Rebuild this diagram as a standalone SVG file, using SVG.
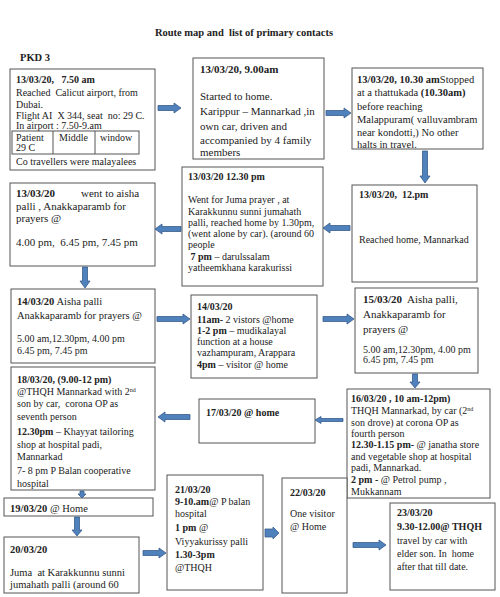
<svg xmlns="http://www.w3.org/2000/svg" width="500" height="597" viewBox="0 0 500 597">
<style>
text{font-family:"Liberation Serif","Times New Roman",serif;font-size:10px;fill:#222;white-space:pre}
.b{font-weight:bold}
.box{fill:#fff;stroke:#555;stroke-width:1}
.arr{fill:#4f81bd;stroke:#385d8a;stroke-width:0.8}
.sup{font-size:6px}
.l{font-size:11px}
.m{font-size:10.5px}
</style>
<rect width="500" height="597" fill="#fff"/>
<text x="244" y="36" text-anchor="middle" class="b m">Route map and  list of primary contacts</text>
<text x="20" y="61" class="b m">PKD 3</text>

<g id="nodeA">
<rect class="box" x="10" y="69" width="145" height="101"/>
<text x="16" y="83" class="b">13/03/20,   7.50 am</text>
<text x="16" y="96">Reached  Calicut airport, from</text>
<text x="16" y="108">Dubai.</text>
<text x="16" y="119">Flight AI  X 344, seat  no: 29 C.</text>
<text x="16" y="129">In airport : 7.50-9.am</text>
<rect class="box" x="12" y="131" width="127" height="23"/>
<line x1="53" y1="131" x2="53" y2="154" stroke="#555"/>
<line x1="95" y1="131" x2="95" y2="154" stroke="#555"/>
<text x="16" y="141">Patient</text>
<text x="16" y="151">29 C</text>
<text x="59" y="141">Middle</text>
<text x="100" y="141">window</text>
<text x="16" y="165">Co travellers were malayalees</text>
</g>

<g id="nodeB">
<rect class="box" x="193" y="58" width="131" height="101"/>
<text x="200" y="73" class="b l">13/03/20, 9.00am</text>
<text x="200" y="100" class="l">Started to home.</text>
<text x="200" y="115" class="l">Karippur – Mannarkad ,in</text>
<text x="200" y="130" class="l">own car, driven and</text>
<text x="200" y="144" class="l">accompanied by 4 family</text>
<text x="200" y="156" class="l">members</text>
</g>

<g id="nodeC">
<rect class="box" x="352" y="68" width="131" height="81"/>
<text x="357" y="83" class="m"><tspan class="b">13/03/20, 10.30 am</tspan>Stopped</text>
<text x="357" y="96" class="m">at a thattukada <tspan class="b">(10.30am)</tspan></text>
<text x="357" y="110" class="m">before reaching</text>
<text x="357" y="123" class="m">Malappuram( valluvambram</text>
<text x="357" y="136" class="m">near kondotti,) No other</text>
<text x="357" y="148" class="m">halts in travel.</text>
</g>

<g id="nodeD">
<rect class="box" x="352" y="185" width="125" height="97"/>
<text x="359" y="198" class="b">13/03/20,  12.pm</text>
<text x="359" y="243">Reached home, Mannarkad</text>
</g>

<g id="nodeE">
<rect class="box" x="182" y="167" width="141" height="119"/>
<text x="188" y="180" class="b">13/03/20 12.30 pm</text>
<text x="188" y="203">Went for Juma prayer , at</text>
<text x="188" y="215">Karakkunnu sunni jumahath</text>
<text x="188" y="226">palli, reached home by 1.30pm,</text>
<text x="188" y="237">(went alone by car). (around 60</text>
<text x="188" y="248">people</text>
<text x="188" y="260"> <tspan class="b">7 pm</tspan> – darulssalam</text>
<text x="188" y="271">yatheemkhana karakurissi</text>
</g>

<g id="nodeF">
<rect class="box" x="10" y="183" width="145" height="83"/>
<text x="16" y="197" class="b l">13/03/20</text>
<text x="81" y="197" class="l">went to aisha</text>
<text x="16" y="210" class="l">palli , Anakkaparamb for</text>
<text x="16" y="222" class="l">prayers @</text>
<text x="16" y="246" class="l">4.00 pm,  6.45 pm, 7.45 pm</text>
</g>

<g id="nodeG">
<rect class="box" x="11" y="289" width="144" height="74"/>
<text x="17" y="305" class="m"><tspan class="b">14/03/20</tspan> Aisha palli</text>
<text x="17" y="319" class="m">Anakkaparamb for prayers @</text>
<text x="17" y="342">5.00 am,12.30pm, 4.00 pm</text>
<text x="17" y="354">6.45 pm, 7.45 pm</text>
</g>

<g id="nodeH">
<rect class="box" x="191" y="295" width="126" height="83"/>
<text x="197" y="310" class="b">14/03/20</text>
<text x="197" y="323"><tspan class="b">11am-</tspan> 2 vistors @home</text>
<text x="197" y="334"><tspan class="b">1-2 pm</tspan> – mudikalayal</text>
<text x="197" y="345">function at a house</text>
<text x="197" y="356">vazhampuram, Arappara</text>
<text x="197" y="368"><tspan class="b">4pm</tspan> – visitor @ home</text>
</g>

<g id="nodeI">
<rect class="box" x="355" y="288" width="123" height="85"/>
<text x="363" y="303" class="l"><tspan class="b">15/03/20</tspan>  Aisha palli,</text>
<text x="363" y="318" class="l">Anakkaparamb for</text>
<text x="363" y="333" class="l">prayers @</text>
<text x="363" y="353">5.00 am,12.30pm, 4.00 pm</text>
<text x="363" y="363">6.45 pm, 7.45 pm</text>
</g>

<g id="nodeJ">
<rect class="box" x="347" y="389" width="143" height="109"/>
<text x="351" y="402" class="b">16/03/20 , 10 am-12pm)</text>
<text x="351" y="414">THQH Mannarkad, by car (2<tspan class="sup" dy="-3">nd</tspan></text>
<text x="351" y="426">son drove) at corona OP as</text>
<text x="351" y="437">fourth person</text>
<text x="351" y="448"><tspan class="b">12.30-1.15 pm- </tspan>@ janatha store</text>
<text x="351" y="460">and vegetable shop at hospital</text>
<text x="351" y="471">padi, Mannarkad.</text>
<text x="351" y="483"><tspan class="b">2 pm -</tspan> @ Petrol pump ,</text>
<text x="351" y="495">Mukkannam</text>
</g>

<g id="nodeK">
<rect class="box" x="199" y="399" width="116" height="44"/>
<text x="206" y="416" class="b">17/03/20 @ home</text>
</g>

<g id="nodeL">
<rect class="box" x="11" y="367" width="144" height="123"/>
<text x="17" y="383" class="b">18/03/20, (9.00-12 pm)</text>
<text x="17" y="395">@THQH Mannarkad with 2<tspan class="sup" dy="-3">nd</tspan></text>
<text x="17" y="407">son by car,  corona OP as</text>
<text x="17" y="420">seventh person</text>
<text x="17" y="435"><tspan class="b">12.30pm</tspan> – Khayyat tailoring</text>
<text x="17" y="448">shop at hospital padi,</text>
<text x="17" y="460">Mannarkad</text>
<text x="17" y="474">7- 8 pm P Balan cooperative</text>
<text x="17" y="487">hospital</text>
</g>

<g id="nodeM">
<rect class="box" x="4" y="498" width="149" height="18"/>
<text x="10" y="512" class="m"><tspan class="b">19/03/20</tspan> @ Home</text>
</g>

<g id="nodeN">
<rect class="box" x="4" y="537" width="135" height="56"/>
<text x="10" y="553" class="b m">20/03/20</text>
<text x="10" y="576" class="m">Juma  at Karakkunnu sunni</text>
<text x="10" y="588" class="m">jumahath palli (around 60</text>
</g>

<g id="nodeO">
<rect class="box" x="167" y="475" width="96" height="115"/>
<text x="175" y="493" class="b">21/03/20</text>
<text x="175" y="505"><tspan class="b">9-10.am</tspan>@ P balan</text>
<text x="175" y="517">hospital</text>
<text x="175" y="531"><tspan class="b">1 pm</tspan> @</text>
<text x="175" y="545">Viyyakurissy palli</text>
<text x="175" y="558" class="b">1.30-3pm</text>
<text x="175" y="571">@THQH</text>
</g>

<g id="nodeP">
<rect class="box" x="282" y="478" width="65" height="115"/>
<text x="290" y="496" class="b">22/03/20</text>
<text x="290" y="517">One visitor</text>
<text x="290" y="530">@ Home</text>
</g>

<g id="nodeQ">
<rect class="box" x="390" y="503" width="105" height="87"/>
<text x="397" y="516" class="b">23/03/20</text>
<text x="397" y="530" class="b">9.30-12.00@ THQH</text>
<text x="397" y="544">travel by car with</text>
<text x="397" y="557">elder son. In  home</text>
<text x="397" y="570">after that till date.</text>
</g>

<g id="connectors">
<polygon class="arr" points="158,105.5 174,105.5 174,103 181,108 174,113 174,110.5 158,110.5"/>
<polygon class="arr" points="326,110.5 344,110.5 344,108 351,113 344,118 344,115.5 326,115.5"/>
<polygon class="arr" points="422.5,151 427.5,151 427.5,176 430,176 425,183 420,176 422.5,176"/>
<polygon class="arr" points="350,225.5 330,225.5 330,223 323,228 330,233 330,230.5 350,230.5"/>
<polygon class="arr" points="181,226.5 162,226.5 162,224 155,229 162,234 162,231.5 181,231.5"/>
<polygon class="arr" points="82.5,267 87.5,267 87.5,281 90,281 85,288 80,281 82.5,281"/>
<polygon class="arr" points="157,316.5 183,316.5 183,314 190,319 183,324 183,321.5 157,321.5"/>
<polygon class="arr" points="323,316.5 347,316.5 347,314 354,319 347,324 347,321.5 323,321.5"/>
<polygon class="arr" points="412.5,374 417.5,374 417.5,382 420,382 415,388 410,382 412.5,382"/>
<polygon class="arr" points="343,418.5 321,418.5 321,416.5 315,420 321,423.5 321,421.5 343,421.5"/>
<polygon class="arr" points="190,414.5 165,414.5 165,412 158,417 165,422 165,419.5 190,419.5"/>
<polygon class="arr" points="80,491 84,491 84,494 86,494 82,498 78,494 80,494"/>
<polygon class="arr" points="74.5,517 79.5,517 79.5,530 82,530 77,536 72,530 74.5,530"/>
<polygon class="arr" points="143,550.5 159,550.5 159,548 166,553 159,558 159,555.5 143,555.5"/>
<polygon class="arr" points="265,529 273,529 273,527 279,533 273,539 273,537 265,537"/>
<polygon class="arr" points="353,542.5 379,542.5 379,540 386,545 379,550 379,547.5 353,547.5"/>
</g>
</svg>
